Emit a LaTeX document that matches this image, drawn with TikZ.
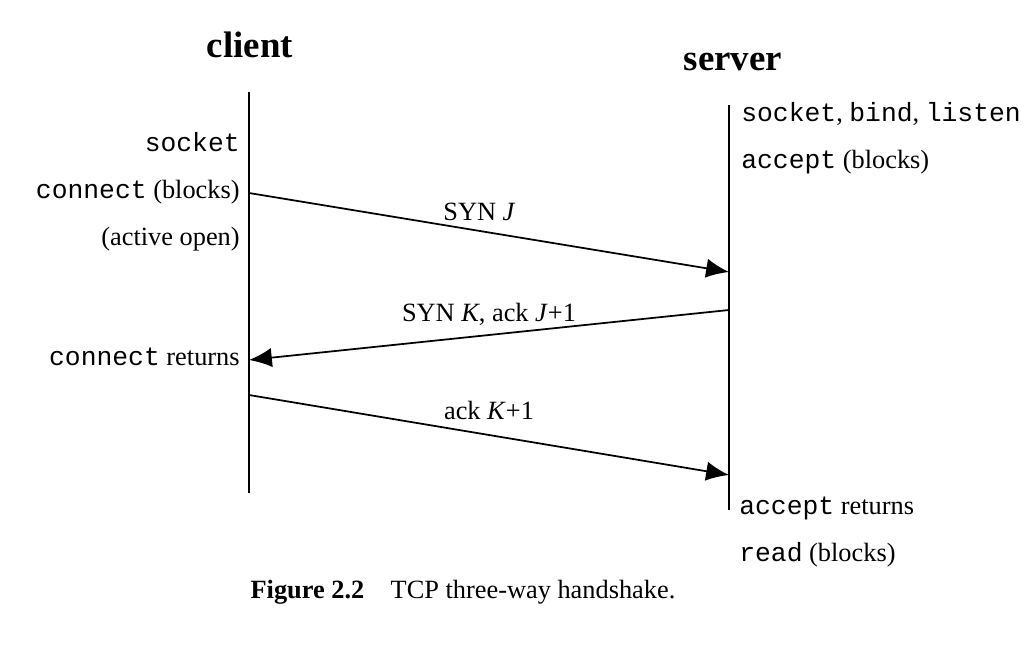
\documentclass[tikz,border=0pt]{standalone}
\usepackage{fontspec}
\setmainfont{Liberation Serif}
\setmonofont{Liberation Mono}
\usetikzlibrary{arrows.meta, positioning}
\tikzstyle{host} = [font = \bfseries\fontsize{21}{25}\selectfont]
\tikzstyle{side} = [font = \fontsize{15}{26.7}\selectfont, inner sep = 0pt]
\tikzstyle{msg} = [font = \fontsize{15}{18}\selectfont, above, inner sep = 5pt]
\tikzstyle{timeline} = [line width = 1pt]
\tikzstyle{arrow} = [line width = 1pt, -{Latex[length = 13pt, width = 11pt]}]

\begin{document}
\begin{tikzpicture}[x = 0.02cm, y = -0.02cm]

    \useasboundingbox (0,0) rectangle (1033,651);

    \node (client) [host] at (250,45) {client};
    \node (server) [host] at (733,62) {server};

    \coordinate (ctop) at (249,92);
    \coordinate (cbot) at (249,493);
    \coordinate (stop) at (729,105);
    \coordinate (sbot) at (729,510);

    \coordinate (c1) at (249,193);
    \coordinate (s1) at (729,272);
    \coordinate (s2) at (729,310);
    \coordinate (c2) at (249,360);
    \coordinate (c3) at (249,395);
    \coordinate (s3) at (729,475);

    \node (copen) [side, anchor = east, align = right] at (240,192) {\texttt{socket}\\\texttt{connect} (blocks)\\(active open)};
    \node (cret) [side, anchor = east] at (240,357) {\texttt{connect} returns};
    \node (sopen) [side, anchor = west, align = left] at (741,138) {\texttt{socket}, \texttt{bind}, \texttt{listen}\\\texttt{accept} (blocks)};
    \node (sret) [side, anchor = west, align = left] at (739,532) {\texttt{accept} returns\\\texttt{read} (blocks)};

    \node (caption) [font = \fontsize{15}{18}\selectfont] at (463,592) {\textbf{Figure 2.2}\quad TCP three-way handshake.};

    \draw[timeline] (ctop) -- (cbot);
    \draw[timeline] (stop) -- (sbot);

    \draw[arrow] (c1) -- node[msg, pos = 0.48]{SYN \textit{J}} (s1);
    \draw[arrow] (s2) -- node[msg]{SYN \textit{K}, ack \textit{J}+1} (c2);
    \draw[arrow] (c3) -- node[msg, yshift = 3pt]{ack \textit{K}+1} (s3);

\end{tikzpicture}
\end{document}
